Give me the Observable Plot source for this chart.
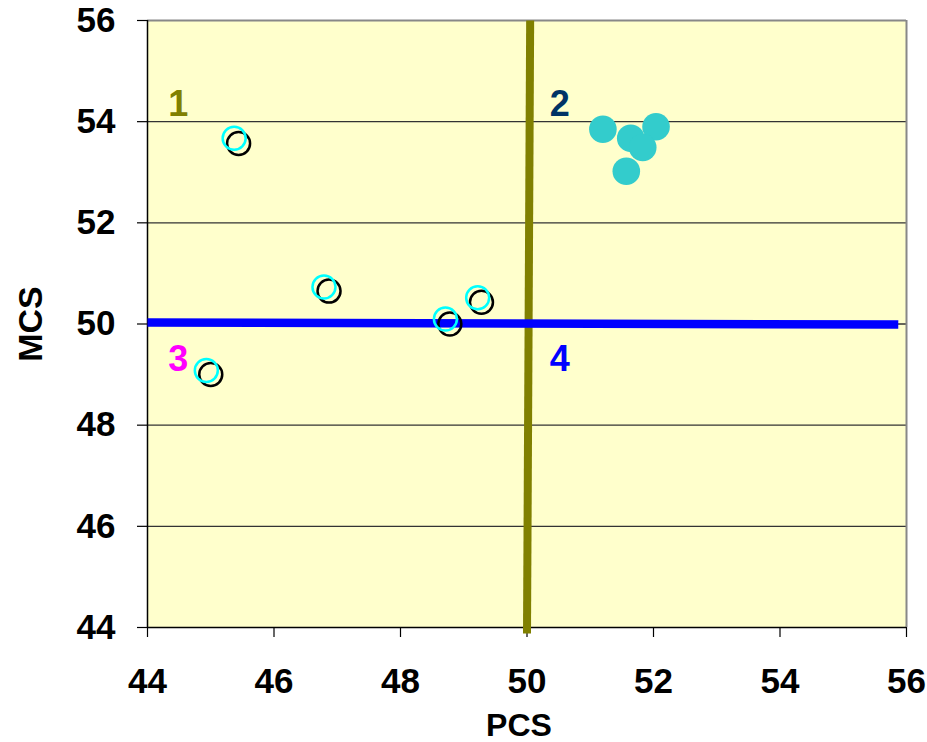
<!DOCTYPE html>
<html>
<head>
<meta charset="utf-8">
<script src="https://cdn.jsdelivr.net/npm/d3@7"></script>
<script src="https://cdn.jsdelivr.net/npm/@observablehq/plot@0.6"></script>
<style>
  html, body { margin: 0; padding: 0; background: #fff; }
</style>
</head>
<body>
<div id="chart"></div>
<script>
// Data
const ticks = [44, 46, 48, 50, 52, 54, 56];
const gridValues = [46, 48, 50, 52, 54];

// Open circles (two overlapping series)
const blackPCS = [45.44, 46.87, 48.78, 49.28, 45.00];
const blackMCS = [53.57, 50.65, 50.00, 50.43, 49.00];
const cyanPCS  = [45.37, 46.79, 48.71, 49.22, 44.93];
const cyanMCS  = [53.67, 50.73, 50.10, 50.52, 49.08];

// Filled cyan points (quadrant 2)
const filledPCS = [51.20, 51.64, 52.04, 51.83, 51.57];
const filledMCS = [53.85, 53.67, 53.90, 53.49, 53.02];

// Reference lines
const vLinePCS = [50.05, 50.00];
const vLineMCS = [56.00, 43.88];
const hLinePCS = [44.00, 55.87];
const hLineMCS = [50.03, 49.99];

// Quadrant labels
const quadLabels = ["1", "2", "3", "4"];
const quadPCS = [44.33, 50.36, 44.33, 50.36];
const quadMCS = [54.34, 54.34, 49.30, 49.30];
const quadColors = ["#808000", "#003366", "#FF00FF", "#0000FF"];

const toPts = (xs, ys) => xs.map((x, i) => ({x, y: ys[i]}));
const black = toPts(blackPCS, blackMCS);
const cyan = toPts(cyanPCS, cyanMCS);
const filled = toPts(filledPCS, filledMCS);
const vLine = toPts(vLinePCS, vLineMCS);
const hLine = toPts(hLinePCS, hLineMCS);
const quads = quadLabels.map((t, i) => ({t, x: quadPCS[i], y: quadMCS[i], c: quadColors[i]}));

const chart = Plot.plot({
  width: 927,
  height: 742,
  marginLeft: 147,
  marginRight: 21,
  marginTop: 20,
  marginBottom: 115,
  x: {domain: [44, 56]},
  y: {domain: [44, 56]},
  style: {
    fontFamily: "'Liberation Sans', Arial, sans-serif",
    fontWeight: "bold",
    fontSize: "35px",
    color: "#000",
    background: "#fff"
  },
  marks: [
    Plot.frame({fill: "#FFFFCC", stroke: null}),
    Plot.ruleY(gridValues, {stroke: "#333", strokeWidth: 1.3}),
    Plot.ruleY([56], {stroke: "#888", strokeWidth: 2}),
    Plot.ruleX([56], {stroke: "#888", strokeWidth: 2}),
    Plot.ruleX([44], {stroke: "#000", strokeWidth: 1.5}),
    Plot.ruleY([44], {stroke: "#000", strokeWidth: 1.5}),
    Plot.axisY({ticks: ticks, tickSize: 10, tickPadding: 22, label: null, fontSize: 35, fontWeight: "bold", strokeWidth: 1.2}),
    Plot.axisX({ticks: ticks, tickSize: 10, tickPadding: 31, label: null, fontSize: 35, fontWeight: "bold", strokeWidth: 1.2}),
    Plot.line(vLine, {x: "x", y: "y", stroke: "#808000", strokeWidth: 8, strokeLinecap: "butt"}),
    Plot.line(hLine, {x: "x", y: "y", stroke: "#0000FF", strokeWidth: 8.5, strokeLinecap: "butt"}),
    Plot.dot(black, {x: "x", y: "y", r: 11.5, stroke: "#000", strokeWidth: 2.5, fill: "none"}),
    Plot.dot(cyan, {x: "x", y: "y", r: 11.5, stroke: "#00FFFF", strokeWidth: 2.5, fill: "none"}),
    Plot.dot(filled, {x: "x", y: "y", r: 13.8, fill: "#33CCCC", stroke: null}),
    Plot.text(quads, {x: "x", y: "y", text: "t", fill: "c", fontSize: 36, fontWeight: "bold", textAnchor: "start", lineAnchor: "middle"}),
    Plot.text(["PCS"], {frameAnchor: "bottom", dx: -8, dy: 98, fontSize: 32, fontWeight: "bold", textAnchor: "middle", lineAnchor: "middle"}),
    Plot.text(["MCS"], {frameAnchor: "left", dx: -116, rotate: -90, fontSize: 34, fontWeight: "bold", textAnchor: "middle", lineAnchor: "middle"})
  ]
});
document.getElementById("chart").appendChild(chart);
</script>
</body>
</html>
